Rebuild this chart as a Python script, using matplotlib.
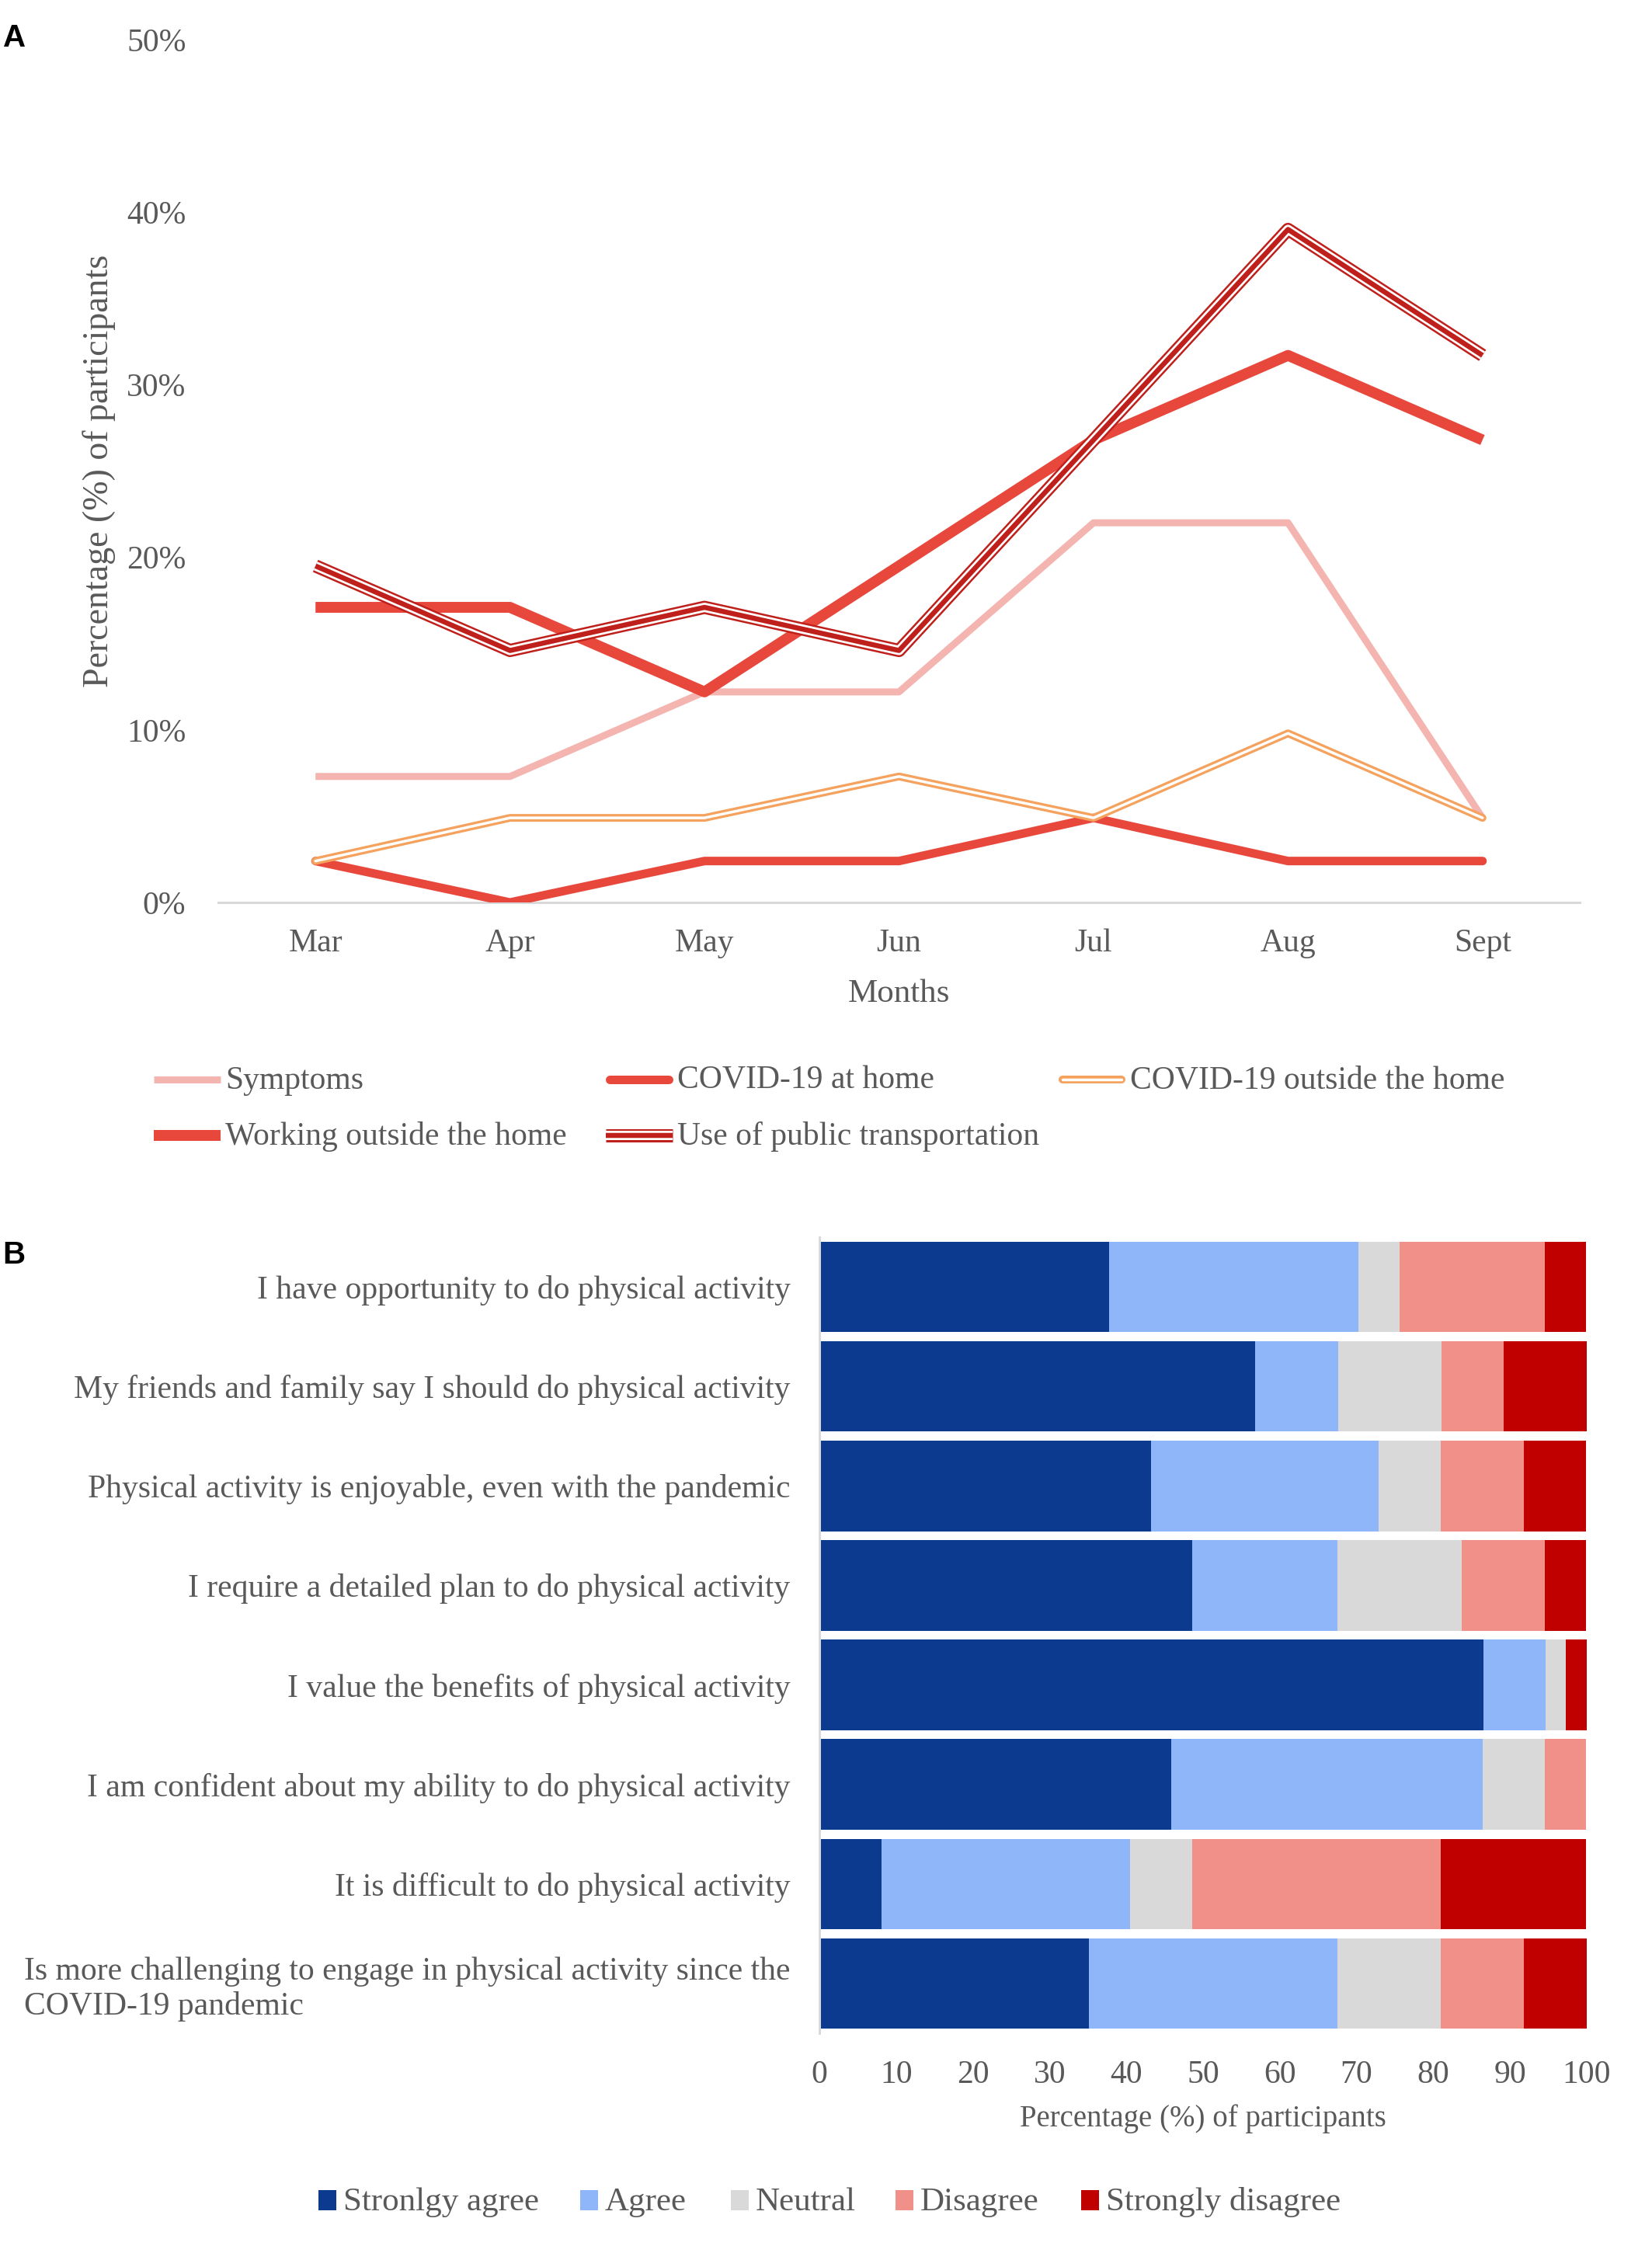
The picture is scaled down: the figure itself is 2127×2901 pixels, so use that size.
import numpy as np
import matplotlib.pyplot as plt
from matplotlib.patches import Rectangle

plt.rcParams['font.family'] = ['Liberation Serif', 'DejaVu Serif']

GREY = "#595959"
W, H = 2127, 2901

# ---------- panel A data (% of participants) ----------
months = ["Mar", "Apr", "May", "Jun", "Jul", "Aug", "Sept"]
symptoms = [7.3, 7.3, 12.2, 12.2, 22.0, 22.0, 4.9]
covid_home = [2.4, 0.0, 2.4, 2.4, 4.9, 2.4, 2.4]
covid_outside = [2.4, 4.9, 4.9, 7.3, 4.9, 9.8, 4.9]
working_outside = [17.1, 17.1, 12.2, 19.5, 26.8, 31.7, 26.8]
public_transport = [19.5, 14.6, 17.1, 14.6, 26.8, 39.0, 31.7]
y_ticks_a = [0, 10, 20, 30, 40, 50]

# ---------- panel B data (% of participants) ----------
statements = [
    "I have opportunity to do physical activity",
    "My friends and family say I should do physical activity",
    "Physical activity is enjoyable, even with the pandemic",
    "I require a detailed plan to do physical activity",
    "I value the benefits of physical activity",
    "I am confident about my ability to do physical activity",
    "It is difficult to do physical activity",
    "Is more challenging to engage in physical activity since the\nCOVID-19 pandemic",
]
responses = ["Stronlgy agree", "Agree", "Neutral", "Disagree", "Strongly disagree"]
strongly_agree = [37.8, 56.8, 43.2, 48.6, 86.5, 45.9, 8.1, 35.1]
agree = [32.4, 10.8, 29.7, 18.9, 8.1, 40.5, 32.4, 32.4]
neutral = [5.4, 13.5, 8.1, 16.2, 2.7, 8.1, 8.1, 13.5]
disagree = [18.9, 8.1, 10.8, 10.8, 0.0, 5.4, 32.4, 10.8]
strongly_disagree = [5.4, 10.8, 8.1, 5.4, 2.7, 0.0, 18.9, 8.5]
x_ticks_b = [0, 10, 20, 30, 40, 50, 60, 70, 80, 90, 100]

resp_colors = ["#0B3A8F", "#8FB6F8", "#D9D9D9", "#F09088", "#C00000"]

C_SYM = "#F4B4AF"
C_RED = "#E8473C"
C_ORA = "#F5A25E"
C_DRK = "#C0201C"


def px(v):
    return v / 1.389  # pixels -> points at dpi 100


def draw_series(ax, x, y, kind, **kw):
    if kind == "sym":
        ax.plot(x, y, color=C_SYM, lw=px(9), solid_joinstyle="round",
                solid_capstyle="butt", **kw)
    elif kind == "home":
        ax.plot(x, y, color=C_RED, lw=px(11), solid_joinstyle="round",
                solid_capstyle="round", **kw)
    elif kind == "out":
        ax.plot(x, y, color=C_ORA, lw=px(10), solid_joinstyle="round",
                solid_capstyle="round", **kw)
        ax.plot(x, y, color="white", lw=px(3.5), solid_joinstyle="round",
                solid_capstyle="round", **kw)
    elif kind == "work":
        ax.plot(x, y, color=C_RED, lw=px(14), solid_joinstyle="round",
                solid_capstyle="butt", **kw)
    elif kind == "pub":
        ax.plot(x, y, color=C_DRK, lw=px(17), solid_joinstyle="round",
                solid_capstyle="butt", **kw)
        ax.plot(x, y, color="white", lw=px(12), solid_joinstyle="round",
                solid_capstyle="butt", **kw)
        ax.plot(x, y, color=C_DRK, lw=px(6.5), solid_joinstyle="round",
                solid_capstyle="butt", **kw)


fig = plt.figure(figsize=(W / 100, H / 100), dpi=100)
fig.patch.set_facecolor("white")


def fig_rect(l, t, r, b):
    return [l / W, (H - b) / H, (r - l) / W, (b - t) / H]


# =========== Panel A ===========
axA = fig.add_axes(fig_rect(281, 51, 2034, 1162))
xs = np.arange(len(months))
series = [(symptoms, "sym"), (covid_home, "home"), (covid_outside, "out"),
          (working_outside, "work"), (public_transport, "pub")]
for vals, kind in series:
    draw_series(axA, xs, vals, kind)

axA.set_xlim(-0.5, len(months) - 0.5)
axA.set_ylim(0, 50)
axA.set_xticks(xs)
axA.set_xticklabels(months)
axA.set_yticks(y_ticks_a)
axA.set_yticklabels([f"{v}%" for v in y_ticks_a])
axA.tick_params(length=0, labelsize=30, colors=GREY)
axA.tick_params(axis="y", pad=30)
axA.tick_params(axis="x", pad=24)
for s in ["top", "right", "left"]:
    axA.spines[s].set_visible(False)
axA.spines["bottom"].set_color("#D9D9D9")
axA.spines["bottom"].set_linewidth(px(3))
axA.spines["bottom"].set_zorder(0)
axA.set_xlabel("Months", fontsize=31, color=GREY, labelpad=19)
axA.set_ylabel("Percentage (%) of participants", fontsize=33, color=GREY,
               labelpad=10)

# =========== Panel B ===========
axB = fig.add_axes(fig_rect(1055, 1593, 2043, 2618))
ys = np.arange(len(statements))
cols = [strongly_agree, agree, neutral, disagree, strongly_disagree]
left = np.zeros(len(statements))
for vals, c in zip(cols, resp_colors):
    axB.barh(ys, vals, left=left, height=0.91, color=c, edgecolor="none")
    left = left + np.array(vals)

axB.set_xlim(0, 100)
axB.set_ylim(len(statements) - 0.5, -0.5)
axB.set_xticks(x_ticks_b)
axB.set_yticks(ys)
axB.set_yticklabels(statements)
for lab in axB.get_yticklabels():
    lab.set_multialignment("left")
axB.tick_params(length=0, labelsize=30, colors=GREY)
axB.tick_params(axis="y", pad=27)
axB.tick_params(axis="x", pad=25)
for s in ["top", "right", "bottom"]:
    axB.spines[s].set_visible(False)
axB.spines["left"].set_color("#D9D9D9")
axB.spines["left"].set_linewidth(px(3))
axB.set_xlabel("Percentage (%) of participants", fontsize=28, color=GREY,
               labelpad=13)

# =========== overlay for legends and panel letters (pixel coords) ===========
ov = fig.add_axes([0, 0, 1, 1])
ov.set_xlim(0, W)
ov.set_ylim(H, 0)
ov.axis("off")

legA = [
    ("Symptoms", "sym", 198, 1390),
    ("COVID-19 at home", "home", 780, 1390),
    ("COVID-19 outside the home", "out", 1363, 1390),
    ("Working outside the home", "work", 198, 1462),
    ("Use of public transportation", "pub", 780, 1462),
]
for label, kind, x0, y0 in legA:
    inset = 5 if kind in ("home", "out") else 0
    draw_series(ov, [x0 + inset, x0 + 86 - inset], [y0, y0], kind)
    ov.text(x0 + 92, y0 + 12, label, fontsize=30, color=GREY, va="baseline",
            ha="left")

legB_x = [410, 747, 941, 1153, 1392]
for label, c, x0 in zip(responses, resp_colors, legB_x):
    ov.add_patch(Rectangle((x0, 2833 - 13), 23, 26, color=c, lw=0))
    ov.text(x0 + 32, 2833 + 13, label, fontsize=31, color=GREY, va="baseline",
            ha="left")

ov.text(4, 60, "A", fontsize=29, fontweight="bold", color="black",
        family="Liberation Sans", va="baseline")
ov.text(3, 1627, "B", fontsize=29, fontweight="bold", color="black",
        family="Liberation Sans", va="baseline")

fig.savefig("out.png", dpi=100, facecolor="white")
